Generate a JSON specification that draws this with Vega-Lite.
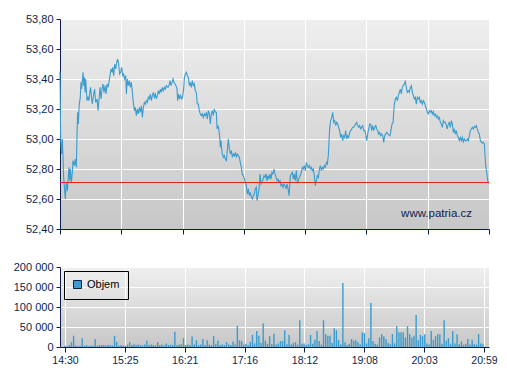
{
  "$schema": "https://vega.github.io/schema/vega-lite/v6.json",
  "background": "#ffffff",
  "padding": {"left": 13, "top": 13, "right": 0, "bottom": 0},
  "spacing": 26,
  "resolve": {"legend": {"color": "independent"}, "scale": {"color": "independent"}},
  "config": {
    "locale": {"number": {"decimal": ",", "thousands": " ", "grouping": [3], "currency": ["", ""]}},
    "view": {"stroke": null, "fill": {"gradient": "linear", "x1": 0, "y1": 0, "x2": 0, "y2": 1, "stops": [{"offset": 0, "color": "#efefef"}, {"offset": 1, "color": "#c7c7c7"}]}},
    "axis": {"labelFont": "Liberation Sans", "labelFontSize": 11, "labelColor": "#0b1f4e", "domainColor": "#0b1f4e", "tickColor": "#0b1f4e", "gridColor": "#ffffff", "gridOpacity": 1, "gridWidth": 1, "domainWidth": 1, "tickWidth": 1, "labelOverlap": false, "labelSeparation": 0},
    "legend": {"labelFont": "Liberation Sans", "labelFontSize": 11, "labelColor": "#000000"}
  },
  "datasets": {
    "price": [
      {"t":0,"price":53.45},{"t":0.6,"price":53.0},{"t":1.5,"price":52.9},{"t":2.1,"price":53.0},{"t":2.7,"price":52.889},{"t":3.3,"price":52.744},{"t":3.9,"price":52.689},{"t":4.8,"price":52.6},{"t":5.7,"price":52.711},{"t":6.7,"price":52.656},{"t":7.6,"price":52.756},{"t":8.2,"price":52.811},{"t":8.8,"price":52.722},{"t":9.4,"price":52.8},{"t":10.3,"price":52.711},{"t":11.2,"price":52.778},{"t":11.8,"price":52.856},{"t":13.0,"price":52.822},{"t":13.9,"price":52.867},{"t":14.8,"price":52.811},{"t":15.4,"price":53.022},{"t":16.0,"price":53.178},{"t":16.6,"price":53.1},{"t":17.5,"price":53.233},{"t":18.4,"price":53.278},{"t":19.0,"price":53.378},{"t":19.6,"price":53.333},{"t":20.3,"price":53.389},{"t":20.9,"price":53.444},{"t":21.5,"price":53.356},{"t":22.1,"price":53.411},{"t":22.7,"price":53.311},{"t":23.3,"price":53.4},{"t":23.9,"price":53.322},{"t":24.5,"price":53.256},{"t":25.4,"price":53.278},{"t":26.3,"price":53.256},{"t":27.2,"price":53.322},{"t":27.8,"price":53.344},{"t":28.7,"price":53.267},{"t":29.3,"price":53.233},{"t":30.5,"price":53.3},{"t":31.4,"price":53.333},{"t":32.3,"price":53.244},{"t":33.6,"price":53.267},{"t":34.5,"price":53.189},{"t":35.4,"price":53.267},{"t":36.3,"price":53.344},{"t":37.2,"price":53.267},{"t":38.1,"price":53.333},{"t":39.0,"price":53.367},{"t":39.9,"price":53.311},{"t":40.8,"price":53.356},{"t":41.7,"price":53.3},{"t":42.6,"price":53.367},{"t":43.5,"price":53.344},{"t":44.4,"price":53.378},{"t":45.3,"price":53.422},{"t":46.3,"price":53.467},{"t":47.2,"price":53.444},{"t":47.8,"price":53.478},{"t":48.7,"price":53.422},{"t":49.6,"price":53.5},{"t":50.5,"price":53.467},{"t":51.4,"price":53.511},{"t":52.3,"price":53.533},{"t":53.2,"price":53.5},{"t":54.1,"price":53.433},{"t":55.0,"price":53.444},{"t":55.9,"price":53.478},{"t":56.8,"price":53.422},{"t":57.7,"price":53.433},{"t":58.6,"price":53.4},{"t":59.6,"price":53.422},{"t":60.2,"price":53.3},{"t":61.1,"price":53.4},{"t":62.0,"price":53.356},{"t":62.9,"price":53.389},{"t":63.8,"price":53.344},{"t":64.7,"price":53.378},{"t":65.6,"price":53.311},{"t":66.5,"price":53.244},{"t":67.4,"price":53.189},{"t":68.3,"price":53.211},{"t":69.2,"price":53.156},{"t":70.1,"price":53.2},{"t":71.0,"price":53.167},{"t":71.9,"price":53.211},{"t":72.9,"price":53.178},{"t":73.8,"price":53.222},{"t":74.7,"price":53.144},{"t":75.6,"price":53.211},{"t":76.5,"price":53.244},{"t":77.4,"price":53.233},{"t":78.3,"price":53.256},{"t":79.2,"price":53.244},{"t":80.1,"price":53.278},{"t":81.0,"price":53.267},{"t":81.9,"price":53.3},{"t":82.8,"price":53.256},{"t":83.7,"price":53.289},{"t":84.6,"price":53.311},{"t":85.5,"price":53.278},{"t":86.5,"price":53.3},{"t":87.4,"price":53.267},{"t":88.3,"price":53.289},{"t":89.2,"price":53.322},{"t":90.1,"price":53.3},{"t":91.0,"price":53.333},{"t":91.9,"price":53.311},{"t":92.8,"price":53.344},{"t":93.7,"price":53.322},{"t":94.6,"price":53.344},{"t":95.5,"price":53.333},{"t":96.4,"price":53.356},{"t":97.9,"price":53.344},
      {"t":98.8,"price":53.356},{"t":99.8,"price":53.389},{"t":100.7,"price":53.356},{"t":101.6,"price":53.378},{"t":102.5,"price":53.4},{"t":103.4,"price":53.378},{"t":104.3,"price":53.367},{"t":105.2,"price":53.356},{"t":106.1,"price":53.333},{"t":106.7,"price":53.256},{"t":107.6,"price":53.3},{"t":108.5,"price":53.267},{"t":109.4,"price":53.289},{"t":110.3,"price":53.267},{"t":111.2,"price":53.278},{"t":112.1,"price":53.333},{"t":112.8,"price":53.411},{"t":113.7,"price":53.433},{"t":114.6,"price":53.444},{"t":115.5,"price":53.422},{"t":116.4,"price":53.411},{"t":117.3,"price":53.356},{"t":118.2,"price":53.378},{"t":119.1,"price":53.344},{"t":120.0,"price":53.389},{"t":120.9,"price":53.356},{"t":121.8,"price":53.367},{"t":122.7,"price":53.322},{"t":123.6,"price":53.311},{"t":124.5,"price":53.233},{"t":125.4,"price":53.233},{"t":126.3,"price":53.189},{"t":127.3,"price":53.167},{"t":128.2,"price":53.156},{"t":129.1,"price":53.167},{"t":130.0,"price":53.144},{"t":130.9,"price":53.167},{"t":131.8,"price":53.156},{"t":132.7,"price":53.178},{"t":133.6,"price":53.133},{"t":134.5,"price":53.189},{"t":135.4,"price":53.167},{"t":136.3,"price":53.1},{"t":137.2,"price":53.167},{"t":138.1,"price":53.189},{"t":139.0,"price":53.156},{"t":139.9,"price":53.2},{"t":140.9,"price":53.178},{"t":141.8,"price":53.178},{"t":142.4,"price":53.067},{"t":143.3,"price":53.089},{"t":144.2,"price":53.056},{"t":144.8,"price":53.011},{"t":145.4,"price":52.944},{"t":146.0,"price":52.989},{"t":146.6,"price":52.933},{"t":147.2,"price":52.9},{"t":148.1,"price":52.878},{"t":149.0,"price":52.889},{"t":149.9,"price":52.867},{"t":150.8,"price":52.856},{"t":151.7,"price":52.922},{"t":152.6,"price":53.0},{"t":153.6,"price":52.933},{"t":154.5,"price":52.9},{"t":155.4,"price":52.922},{"t":156.3,"price":52.878},{"t":157.2,"price":52.9},{"t":158.1,"price":52.889},{"t":159.0,"price":52.911},{"t":159.9,"price":52.878},{"t":160.8,"price":52.9},{"t":161.7,"price":52.889},{"t":162.6,"price":52.878},{"t":163.5,"price":52.844},{"t":164.4,"price":52.811},{"t":165.3,"price":52.767},{"t":166.2,"price":52.756},{"t":167.2,"price":52.733},{"t":168.1,"price":52.711},{"t":169.0,"price":52.689},{"t":169.9,"price":52.633},{"t":170.8,"price":52.667},{"t":171.7,"price":52.622},{"t":172.6,"price":52.644},{"t":173.5,"price":52.611},{"t":174.4,"price":52.6},{"t":175.3,"price":52.622},{"t":176.2,"price":52.633},{"t":177.1,"price":52.667},{"t":178.0,"price":52.678},{"t":178.6,"price":52.589},{"t":179.5,"price":52.622},{"t":180.5,"price":52.667},{"t":181.4,"price":52.767},{"t":182.3,"price":52.7},{"t":183.2,"price":52.711},{"t":184.1,"price":52.733},{"t":185.0,"price":52.756},{"t":185.9,"price":52.744},{"t":186.8,"price":52.767},{"t":187.7,"price":52.722},{"t":188.6,"price":52.756},{"t":189.5,"price":52.733},{"t":190.4,"price":52.767},{"t":191.3,"price":52.733},{"t":192.2,"price":52.778},{"t":193.1,"price":52.767},{"t":194.1,"price":52.8},{"t":195.0,"price":52.767},{"t":195.9,"price":52.744},{"t":196.8,"price":52.722},{"t":197.7,"price":52.733},
      {"t":198.6,"price":52.711},{"t":199.5,"price":52.722},{"t":200.4,"price":52.689},{"t":201.3,"price":52.7},{"t":202.2,"price":52.678},{"t":203.1,"price":52.7},{"t":204.0,"price":52.689},{"t":205.0,"price":52.667},{"t":205.8,"price":52.7},{"t":206.8,"price":52.667},{"t":207.7,"price":52.622},{"t":208.3,"price":52.689},{"t":208.9,"price":52.756},{"t":209.8,"price":52.767},{"t":210.7,"price":52.778},{"t":211.6,"price":52.733},{"t":212.5,"price":52.767},{"t":213.4,"price":52.722},{"t":214.3,"price":52.789},{"t":215.2,"price":52.711},{"t":216.1,"price":52.722},{"t":217.0,"price":52.744},{"t":217.9,"price":52.756},{"t":218.8,"price":52.778},{"t":219.8,"price":52.811},{"t":220.7,"price":52.8},{"t":221.6,"price":52.822},{"t":222.5,"price":52.789},{"t":223.4,"price":52.844},{"t":224.3,"price":52.822},{"t":225.2,"price":52.811},{"t":226.1,"price":52.822},{"t":227.0,"price":52.8},{"t":227.9,"price":52.811},{"t":228.8,"price":52.789},{"t":229.7,"price":52.8},{"t":230.6,"price":52.756},{"t":231.5,"price":52.689},{"t":232.4,"price":52.722},{"t":233.4,"price":52.756},{"t":234.3,"price":52.744},{"t":235.2,"price":52.8},{"t":236.1,"price":52.822},{"t":237.0,"price":52.789},{"t":237.9,"price":52.811},{"t":238.8,"price":52.8},{"t":239.7,"price":52.822},{"t":240.6,"price":52.811},{"t":241.5,"price":52.844},{"t":242.4,"price":52.833},{"t":243.3,"price":52.889},{"t":243.9,"price":52.978},{"t":244.5,"price":53.067},{"t":245.4,"price":53.122},{"t":246.4,"price":53.144},{"t":247.3,"price":53.178},{"t":248.2,"price":53.111},{"t":249.1,"price":53.122},{"t":250.0,"price":53.089},{"t":250.9,"price":53.111},{"t":251.8,"price":53.1},{"t":252.7,"price":53.078},{"t":253.6,"price":53.056},{"t":254.5,"price":53.011},{"t":255.4,"price":53.033},{"t":256.3,"price":52.989},{"t":257.2,"price":53.022},{"t":258.1,"price":53.011},{"t":259.0,"price":53.056},{"t":260.0,"price":53.0},{"t":260.9,"price":53.022},{"t":261.8,"price":53.011},{"t":262.7,"price":53.044},{"t":263.6,"price":53.056},{"t":264.5,"price":53.067},{"t":265.4,"price":53.078},{"t":266.3,"price":53.078},{"t":267.2,"price":53.089},{"t":268.1,"price":53.1},{"t":269.0,"price":53.111},{"t":269.9,"price":53.089},{"t":270.8,"price":53.078},{"t":271.7,"price":53.089},{"t":272.6,"price":53.067},{"t":273.5,"price":53.078},{"t":274.5,"price":53.089},{"t":275.4,"price":53.056},{"t":276.3,"price":53.056},{"t":277.2,"price":53.033},{"t":278.1,"price":52.989},{"t":279.0,"price":53.033},{"t":279.9,"price":53.067},{"t":280.8,"price":53.1},{"t":281.7,"price":53.1},{"t":282.6,"price":53.056},{"t":283.5,"price":53.089},{"t":284.4,"price":53.056},{"t":285.3,"price":53.078},{"t":286.3,"price":53.089},{"t":287.2,"price":53.067},{"t":288.1,"price":53.056},{"t":289.0,"price":53.033},{"t":289.9,"price":53.044},{"t":290.8,"price":53.022},{"t":291.7,"price":53.033},{"t":292.6,"price":53.022},{"t":293.5,"price":52.978},{"t":294.4,"price":53.022},{"t":295.3,"price":53.033},{"t":296.2,"price":53.044},
      {"t":297.4,"price":53.033},{"t":298.3,"price":53.027},{"t":299.2,"price":53.022},{"t":300.1,"price":53.056},{"t":301.1,"price":53.1},{"t":302.0,"price":53.111},{"t":302.6,"price":53.178},{"t":303.2,"price":53.233},{"t":304.1,"price":53.267},{"t":305.0,"price":53.278},{"t":305.9,"price":53.256},{"t":306.8,"price":53.289},{"t":307.7,"price":53.311},{"t":308.6,"price":53.333},{"t":309.5,"price":53.3},{"t":310.4,"price":53.344},{"t":311.3,"price":53.356},{"t":312.2,"price":53.367},{"t":313.1,"price":53.384},{"t":314.0,"price":53.344},{"t":314.9,"price":53.311},{"t":315.9,"price":53.322},{"t":316.8,"price":53.311},{"t":317.7,"price":53.344},{"t":318.6,"price":53.356},{"t":319.5,"price":53.311},{"t":320.4,"price":53.289},{"t":321.3,"price":53.267},{"t":322.2,"price":53.278},{"t":323.1,"price":53.233},{"t":324.0,"price":53.278},{"t":324.9,"price":53.267},{"t":325.8,"price":53.278},{"t":326.7,"price":53.244},{"t":327.7,"price":53.256},{"t":328.6,"price":53.233},{"t":329.5,"price":53.256},{"t":330.4,"price":53.244},{"t":331.3,"price":53.222},{"t":332.2,"price":53.2},{"t":333.1,"price":53.178},{"t":334.0,"price":53.167},{"t":334.9,"price":53.189},{"t":335.8,"price":53.178},{"t":336.7,"price":53.189},{"t":337.6,"price":53.167},{"t":338.5,"price":53.182},{"t":339.4,"price":53.156},{"t":340.4,"price":53.167},{"t":341.3,"price":53.144},{"t":342.2,"price":53.156},{"t":343.1,"price":53.133},{"t":344.0,"price":53.144},{"t":344.9,"price":53.111},{"t":345.8,"price":53.1},{"t":346.7,"price":53.078},{"t":347.6,"price":53.122},{"t":348.5,"price":53.111},{"t":349.4,"price":53.111},{"t":350.3,"price":53.089},{"t":351.2,"price":53.067},{"t":352.1,"price":53.1},{"t":353.0,"price":53.111},{"t":354.0,"price":53.078},{"t":354.9,"price":53.122},{"t":355.8,"price":53.1},{"t":356.7,"price":53.044},{"t":357.6,"price":53.067},{"t":358.5,"price":53.033},{"t":359.4,"price":53.056},{"t":360.3,"price":53.022},{"t":361.2,"price":53.011},{"t":362.1,"price":52.989},{"t":363.0,"price":53.011},{"t":363.9,"price":52.989},{"t":364.8,"price":53.011},{"t":365.7,"price":52.982},{"t":366.6,"price":53.0},{"t":367.6,"price":52.989},{"t":368.5,"price":52.989},{"t":369.4,"price":53.0},{"t":370.3,"price":52.989},{"t":371.2,"price":53.022},{"t":372.1,"price":53.056},{"t":373.0,"price":53.067},{"t":373.9,"price":53.078},{"t":374.8,"price":53.067},{"t":375.7,"price":53.084},{"t":376.6,"price":53.078},{"t":377.5,"price":53.089},{"t":378.4,"price":53.067},{"t":379.3,"price":53.044},{"t":380.2,"price":53.033},{"t":381.2,"price":52.989},{"t":382.1,"price":52.978},{"t":383.0,"price":52.973},{"t":383.9,"price":52.978},{"t":384.8,"price":52.967},{"t":385.4,"price":52.889},{"t":386.0,"price":52.822},{"t":386.9,"price":52.778},{"t":387.8,"price":52.722},{"t":388.7,"price":52.705}
    ],
    "reference": [
      {"t": 0, "price": 52.71},
      {"t": 389, "price": 52.71}
    ],
    "watermark": [
      {"t": 373.6, "price": 52.48, "label": "www.patria.cz"}
    ],
    "volume": [
      {"t":0,"vol":3000},{"t":2,"vol":2000},{"t":4,"vol":5000},{"t":6,"vol":12000},{"t":8,"vol":28000},{"t":10,"vol":4000},{"t":12,"vol":2000},{"t":14,"vol":3000},{"t":16,"vol":22000},{"t":18,"vol":3000},{"t":20,"vol":5000},{"t":22,"vol":2000},{"t":24,"vol":4000},{"t":26,"vol":3000},{"t":28,"vol":20000},{"t":30,"vol":3000},{"t":32,"vol":5000},{"t":34,"vol":5000},{"t":36,"vol":5000},{"t":38,"vol":4000},{"t":40,"vol":5000},{"t":42,"vol":5000},{"t":44,"vol":4000},{"t":46,"vol":28000},{"t":48,"vol":13000},{"t":50,"vol":3000},{"t":52,"vol":5000},{"t":54,"vol":4000},{"t":56,"vol":3000},{"t":58,"vol":6000},{"t":60,"vol":12000},{"t":62,"vol":5000},{"t":64,"vol":7000},{"t":66,"vol":5000},{"t":68,"vol":6000},{"t":70,"vol":5000},{"t":72,"vol":4000},{"t":74,"vol":6000},{"t":76,"vol":16000},{"t":78,"vol":5000},{"t":80,"vol":6000},{"t":82,"vol":5000},{"t":84,"vol":4000},{"t":86,"vol":12000},{"t":88,"vol":5000},{"t":90,"vol":6000},{"t":92,"vol":4000},{"t":94,"vol":9000},{"t":96,"vol":5000},{"t":98,"vol":6000},{"t":100,"vol":5000},{"t":102,"vol":38000},{"t":104,"vol":5000},{"t":106,"vol":6000},{"t":108,"vol":7000},{"t":110,"vol":22000},{"t":112,"vol":5000},{"t":114,"vol":6000},{"t":116,"vol":5000},{"t":118,"vol":27000},{"t":120,"vol":6000},{"t":122,"vol":17000},{"t":124,"vol":5000},{"t":126,"vol":6000},{"t":128,"vol":20000},{"t":130,"vol":5000},{"t":132,"vol":17000},{"t":134,"vol":6000},{"t":136,"vol":5000},{"t":138,"vol":27000},{"t":140,"vol":7000},{"t":142,"vol":16000},{"t":144,"vol":5000},{"t":146,"vol":6000},{"t":148,"vol":5000},{"t":150,"vol":12000},{"t":152,"vol":6000},{"t":154,"vol":5000},{"t":156,"vol":14000},{"t":158,"vol":6000},{"t":160,"vol":53000},{"t":162,"vol":17000},{"t":164,"vol":15000},{"t":166,"vol":6000},{"t":168,"vol":8000},{"t":170,"vol":5000},{"t":172,"vol":13000},{"t":174,"vol":30000},{"t":176,"vol":9000},{"t":178,"vol":40000},{"t":180,"vol":28000},{"t":182,"vol":10000},{"t":184,"vol":59000},{"t":186,"vol":16000},{"t":188,"vol":8000},{"t":190,"vol":27000},{"t":192,"vol":7000},{"t":194,"vol":33000},{"t":196,"vol":6000},{"t":198,"vol":9000},{"t":200,"vol":15000},{"t":202,"vol":15000},{"t":204,"vol":42000},{"t":206,"vol":7000},{"t":208,"vol":30000},{"t":210,"vol":6000},{"t":212,"vol":10000},{"t":214,"vol":12000},{"t":216,"vol":6000},{"t":218,"vol":67000},{"t":220,"vol":8000},{"t":222,"vol":9000},{"t":224,"vol":5000},{"t":226,"vol":7000},{"t":228,"vol":30000},{"t":230,"vol":8000},{"t":232,"vol":18000},{"t":234,"vol":40000},{"t":236,"vol":15000},{"t":238,"vol":6000},{"t":240,"vol":67000},{"t":242,"vol":32000},{"t":244,"vol":28000},{"t":246,"vol":28000},{"t":248,"vol":10000},{"t":250,"vol":47000},{"t":252,"vol":42000},{"t":254,"vol":17000},{"t":256,"vol":6000},{"t":258,"vol":160000},{"t":260,"vol":12000},{"t":262,"vol":5000},{"t":264,"vol":8000},{"t":266,"vol":20000},{"t":268,"vol":16000},{"t":270,"vol":17000},{"t":272,"vol":12000},{"t":274,"vol":7000},{"t":276,"vol":37000},{"t":278,"vol":35000},{"t":280,"vol":9000},{"t":282,"vol":22000},{"t":284,"vol":110000},{"t":286,"vol":15000},{"t":288,"vol":8000},{"t":290,"vol":6000},{"t":292,"vol":24000},{"t":294,"vol":32000},{"t":296,"vol":27000},{"t":298,"vol":20000},{"t":300,"vol":10000},{"t":302,"vol":7000},{"t":304,"vol":32000},{"t":306,"vol":9000},{"t":308,"vol":52000},{"t":310,"vol":37000},{"t":312,"vol":37000},{"t":314,"vol":37000},{"t":316,"vol":24000},{"t":318,"vol":52000},{"t":320,"vol":32000},{"t":322,"vol":24000},{"t":324,"vol":28000},{"t":326,"vol":80000},{"t":328,"vol":17000},{"t":330,"vol":30000},{"t":332,"vol":27000},{"t":334,"vol":32000},{"t":336,"vol":9000},{"t":338,"vol":6000},{"t":340,"vol":40000},{"t":342,"vol":18000},{"t":344,"vol":27000},{"t":346,"vol":32000},{"t":348,"vol":32000},{"t":350,"vol":8000},{"t":352,"vol":67000},{"t":354,"vol":16000},{"t":356,"vol":22000},{"t":358,"vol":7000},{"t":360,"vol":40000},{"t":362,"vol":9000},{"t":364,"vol":32000},{"t":366,"vol":7000},{"t":368,"vol":14000},{"t":370,"vol":6000},{"t":372,"vol":8000},{"t":374,"vol":20000},{"t":376,"vol":6000},{"t":378,"vol":18000},{"t":380,"vol":7000},{"t":382,"vol":6000},{"t":384,"vol":32000},{"t":386,"vol":9000},{"t":388,"vol":7000}
    ]
  },
  "vconcat": [
    {
      "width": 429,
      "height": 210,
      "encoding": {
        "x": {"field": "t", "type": "quantitative", "title": null,
          "scale": {"domain": [0, 389], "nice": false, "zero": false},
          "axis": {"values": [0, 55.5714, 111.1429, 166.7143, 222.2857, 277.8571, 333.4286, 389], "labels": false, "tickSize": 5, "grid": true}},
        "y": {"field": "price", "type": "quantitative", "title": null,
          "scale": {"domain": [52.4, 53.8], "nice": false, "zero": false},
          "axis": {"values": [52.4, 52.6, 52.8, 53.0, 53.2, 53.4, 53.6, 53.8], "tickCount": 8, "tickSize": 4, "labelPadding": 3, "labelOverlap": false, "format": ".2f", "grid": true}}
      },
      "layer": [
        {
          "data": {"name": "price"},
          "mark": {"type": "line", "color": "#3a9ccf", "strokeWidth": 1.1}
        },
        {
          "data": {"name": "reference"},
          "mark": {"type": "line", "color": "#e8221f", "strokeWidth": 1}
        },
        {
          "data": {"name": "watermark"},
          "mark": {"type": "text", "align": "right", "baseline": "alphabetic", "font": "Liberation Sans", "fontSize": 11.5, "color": "#0b1f4e"},
          "encoding": {"text": {"field": "label"}}
        }
      ]
    },
    {
      "width": 429,
      "height": 80,
      "data": {"name": "volume"},
      "mark": {"type": "bar", "width": 1.4},
      "encoding": {
        "x": {"field": "t", "type": "quantitative", "title": null,
          "scale": {"domain": [0, 389], "nice": false, "zero": false},
          "axis": {"values": [0, 55.5714, 111.1429, 166.7143, 222.2857, 277.8571, 333.4286, 389], "tickSize": 5, "labelPadding": 3, "labelFontSize": 10.5, "labelFlush": false, "labelOverlap": false, "labelExpr": "['14:30','15:25','16:21','17:16','18:12','19:08','20:03','20:59'][round(datum.value/55.5714)]", "grid": true}},
        "y": {"field": "vol", "type": "quantitative", "title": null,
          "scale": {"domain": [0, 200000], "nice": false},
          "axis": {"values": [0, 50000, 100000, 150000, 200000], "tickSize": 4, "labelPadding": 3, "labelOverlap": false, "format": ",d", "grid": true}},
        "color": {"datum": "Objem", "type": "nominal", "scale": {"range": ["#3a9ccf"]},
          "legend": {"title": null, "orient": "top-left", "offset": 4, "padding": 8, "strokeColor": "#000000", "symbolType": "square", "symbolSize": 64, "symbolStrokeColor": "#0b1f4e", "symbolStrokeWidth": 1, "symbolOpacity": 1}}
      }
    }
  ]
}
